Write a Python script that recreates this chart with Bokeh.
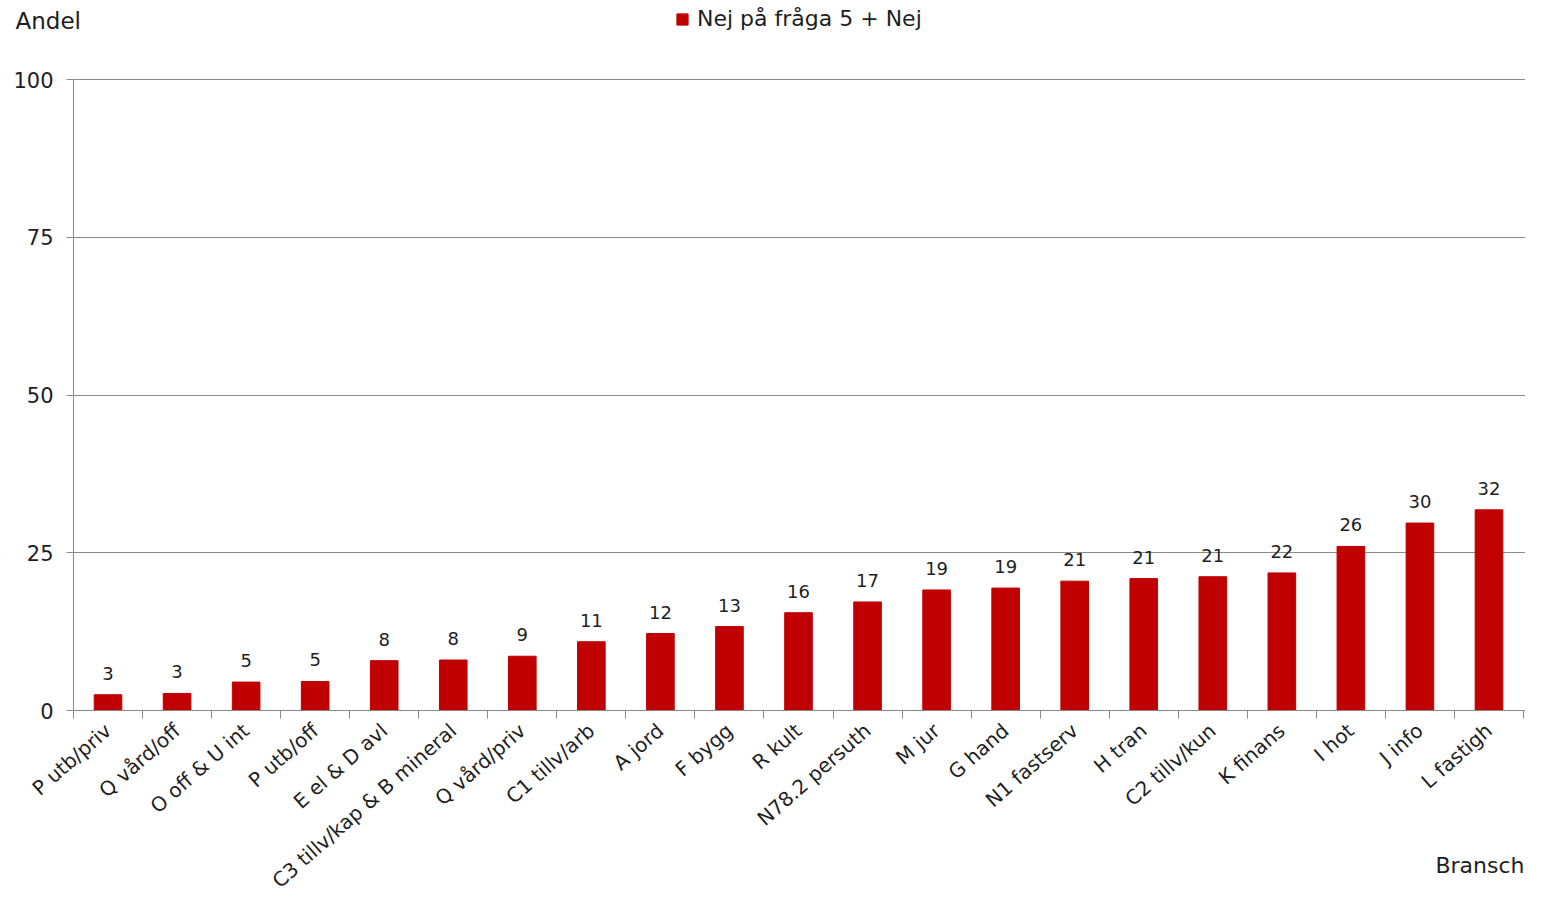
from bokeh.plotting import figure
from bokeh.models import (Range1d, FixedTicker, CustomJSTickFormatter, LabelSet,
                          ColumnDataSource, Label, Legend, LegendItem, BoxAnnotation)
from bokeh.core.properties import value
from bokeh.embed import file_html
from bokeh.resources import INLINE

categories = ["P utb/priv", "Q vård/off", "O off & U int", "P utb/off", "E el & D avl",
              "C3 tillv/kap & B mineral", "Q vård/priv", "C1 tillv/arb", "A jord", "F bygg",
              "R kult", "N78.2 persuth", "M jur", "G hand", "N1 fastserv", "H tran",
              "C2 tillv/kun", "K finans", "I hot", "J info", "L fastigh"]
values = [2.5, 2.7, 4.5, 4.6, 7.9, 8.0, 8.6, 10.9, 12.2, 13.3, 15.5, 17.2, 19.1, 19.4,
          20.5, 20.9, 21.2, 21.8, 26.0, 29.7, 31.8]
y_ticks = [0, 25, 50, 75, 100]
series_name = "Nej på fråga 5 + Nej"

FONT = "DejaVu Sans"
TXT = "#1e1e1e"
GRID = "#8a8a8a"
RED = "#C00000"

n = len(categories)
xs = [i + 0.5 for i in range(n)]
src = ColumnDataSource(dict(x=xs, top=values,
                            lab=[str(int(v + 0.5)) for v in values]))

# layout in figure pixels
W, H = 1525, 894
LEFT, RIGHT = 73, 1523      # x of category 0 and category n
TOP, BOTTOM = 79, 710       # y of value 100 and value 0
cw = (RIGHT - LEFT) / n
py = (BOTTOM - TOP) / 100.0
x0 = -LEFT / cw
x_range = Range1d(x0, n + (W - RIGHT) / cw)
y_range = Range1d(-(H - BOTTOM) / py, 100 + TOP / py)

p = figure(width=W, height=H, output_backend="svg", toolbar_location=None,
           x_range=x_range, y_range=y_range,
           min_border_left=0, min_border_right=0, min_border_top=0, min_border_bottom=0)
p.outline_line_color = None
p.background_fill_color = "white"
p.border_fill_color = "white"

# grid
p.xgrid.visible = False
p.ygrid.ticker = FixedTicker(ticks=y_ticks)
p.ygrid.grid_line_color = GRID
p.ygrid.grid_line_width = 1

# keep gridlines from running left of the value axis
p.add_layout(BoxAnnotation(left=x0 - 1, right=0, fill_color="white", fill_alpha=1,
                           line_color=None, level="underlay"))

r = p.vbar(x="x", top="top", width=0.4, source=src, fill_color=RED, line_color=RED)

labels = LabelSet(x="x", y="top", text="lab", source=src, text_align="center",
                  text_baseline="bottom", y_offset=15, text_font=value(FONT),
                  text_font_size="18px", text_color=TXT)
p.add_layout(labels)

ya = p.yaxis[0]
ya.fixed_location = 0
ya.bounds = (0, 100)
ya.ticker = FixedTicker(ticks=y_ticks)
ya.axis_line_color = GRID
ya.major_tick_line_color = GRID
ya.major_tick_out = 7
ya.major_tick_in = 0
ya.minor_tick_line_color = None
ya.major_label_text_font = FONT
ya.major_label_text_font_size = "21px"
ya.major_label_text_color = TXT
ya.major_label_standoff = 13

xa = p.xaxis[0]
xa.fixed_location = 0
xa.bounds = (0, n)
xa.ticker = FixedTicker(ticks=xs, minor_ticks=list(range(n + 1)))
xa.formatter = CustomJSTickFormatter(args=dict(names=categories),
                                     code="return names[Math.floor(tick)] || '';")
xa.axis_line_color = GRID
xa.major_tick_out = 0
xa.major_tick_in = 0
xa.major_tick_line_color = None
xa.minor_tick_line_color = GRID
xa.minor_tick_out = 8
xa.minor_tick_in = 0
xa.major_label_orientation = 0.72
xa.major_label_text_font = FONT
xa.major_label_text_font_size = "20px"
xa.major_label_text_color = TXT
xa.major_label_standoff = 9

p.add_layout(Label(x=15, y=H - 20, x_units="screen", y_units="screen",
                   text="Andel", text_font=FONT, text_font_size="23px",
                   text_color=TXT, text_baseline="middle", text_align="left"))
p.add_layout(Label(x=W - 1, y=H - 865, x_units="screen", y_units="screen",
                   text="Bransch", text_font=FONT, text_font_size="22px",
                   text_color=TXT, text_baseline="middle", text_align="right"))

legend = Legend(items=[LegendItem(label=series_name, renderers=[r])],
                location=(675, H - 31), orientation="horizontal",
                padding=0, margin=0, border_line_color=None,
                background_fill_alpha=0, glyph_width=14, glyph_height=14,
                label_standoff=8, label_text_font=FONT, label_text_font_size="22px",
                label_text_color=TXT)
p.add_layout(legend)

open("out.html", "w").write(file_html(p, INLINE))
